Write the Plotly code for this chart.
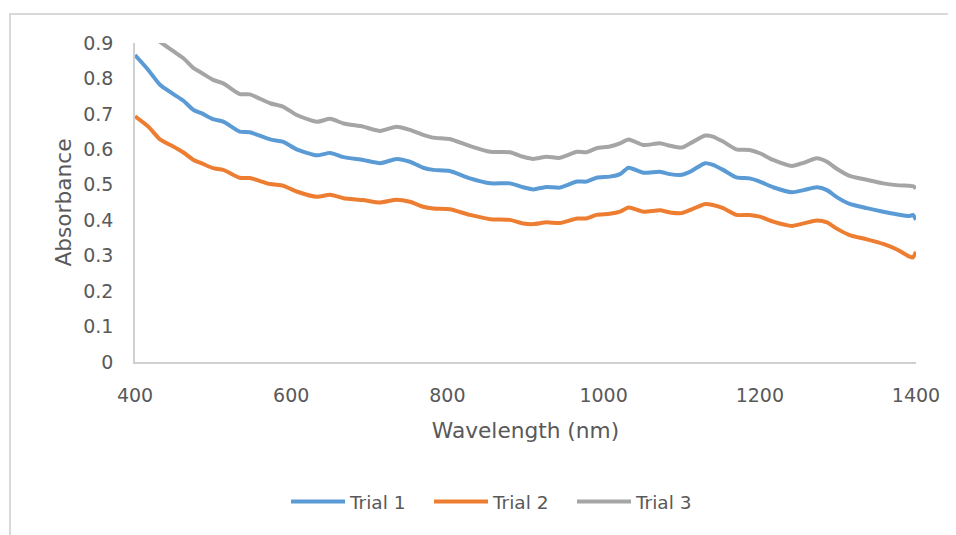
import plotly.graph_objects as go

wavelength = [400, 417, 432, 449, 462, 475, 485, 500, 513, 534, 547, 573, 590, 607, 633, 650, 667, 692, 714, 735,
              752, 769, 782, 803, 829, 855, 880, 897, 910, 927, 944, 966, 978, 991, 1008, 1021, 1032, 1051, 1072,
              1085, 1100, 1111, 1130, 1140, 1153, 1170, 1187, 1200, 1217, 1241, 1256, 1273, 1286, 1298, 1315,
              1337, 1358, 1375, 1392, 1396, 1400]

trial1 = [0.866, 0.824, 0.782, 0.756, 0.737, 0.711, 0.702, 0.685, 0.678, 0.650, 0.648, 0.628, 0.621, 0.600, 0.583,
          0.590, 0.578, 0.570, 0.561, 0.573, 0.565, 0.548, 0.542, 0.539, 0.518, 0.504, 0.504, 0.493, 0.487, 0.494,
          0.492, 0.509, 0.509, 0.520, 0.523, 0.530, 0.548, 0.534, 0.537, 0.530, 0.528, 0.537, 0.561, 0.556, 0.542,
          0.521, 0.518, 0.509, 0.493, 0.479, 0.485, 0.493, 0.485, 0.466, 0.446, 0.434, 0.424, 0.417, 0.412, 0.415,
          0.401]

trial2 = [0.693, 0.664, 0.628, 0.608, 0.591, 0.570, 0.561, 0.547, 0.542, 0.520, 0.519, 0.502, 0.497, 0.481, 0.466,
          0.472, 0.462, 0.457, 0.450, 0.458, 0.452, 0.438, 0.433, 0.431, 0.415, 0.403, 0.401, 0.391, 0.389, 0.394,
          0.392, 0.405, 0.405, 0.415, 0.418, 0.424, 0.436, 0.424, 0.428, 0.422, 0.420, 0.429, 0.446, 0.443, 0.434,
          0.415, 0.415, 0.410, 0.396, 0.384, 0.391, 0.399, 0.394, 0.377, 0.358, 0.346, 0.333, 0.318, 0.297, 0.295,
          0.311]

trial3 = [0.955, 0.925, 0.903, 0.877, 0.857, 0.829, 0.816, 0.796, 0.786, 0.756, 0.755, 0.730, 0.720, 0.697, 0.678,
          0.686, 0.673, 0.664, 0.652, 0.664, 0.655, 0.641, 0.633, 0.629, 0.609, 0.593, 0.592, 0.579, 0.573, 0.579,
          0.576, 0.593, 0.592, 0.603, 0.608, 0.617, 0.628, 0.612, 0.617, 0.610, 0.605, 0.617, 0.639, 0.636, 0.622,
          0.600, 0.598, 0.589, 0.570, 0.553, 0.562, 0.575, 0.565, 0.546, 0.525, 0.514, 0.504, 0.499, 0.497, 0.496,
          0.490]

series = [("Trial 1", trial1, "#5B9BD5"), ("Trial 2", trial2, "#ED7D31"), ("Trial 3", trial3, "#A5A5A5")]

FONT = "'DejaVu Sans', sans-serif"
TXT = "#595959"

# page offset (body margin 8px) taken into account in the margins
L, R, T, B = 127, 48, 35, 181
PW = 956 - L - R
PH = 535 - T - B

fig = go.Figure()
for name, vals, color in series:
    fig.add_trace(go.Scatter(x=wavelength, y=vals, name=name, mode="lines",
                             line=dict(color=color, width=4, shape="spline", smoothing=0.6)))

fig.update_layout(
    width=956, height=535,
    margin=dict(l=L, r=R, t=T, b=B),
    paper_bgcolor="white", plot_bgcolor="white",
    font=dict(family=FONT, color=TXT, size=19),
    showlegend=True,
    legend=dict(orientation="h", x=0.468, xanchor="center", y=-0.439, yanchor="middle",
                font=dict(size=18.5, color=TXT), itemwidth=54, entrywidth=74, tracegroupgap=0),
    xaxis=dict(range=[400, 1400], dtick=200, tick0=400, showgrid=False, zeroline=False,
               showline=True, linecolor="#d0d0d0", linewidth=1.5, ticks="",
               ticklabelstandoff=15, tickfont=dict(size=19, color=TXT),
               title=dict(text="Wavelength (nm)", font=dict(size=21.7, color=TXT), standoff=18)),
    yaxis=dict(range=[0, 0.9], dtick=0.1, tick0=0, showgrid=False, zeroline=False,
               showline=True, linecolor="#d0d0d0", linewidth=1.5, ticks="",
               ticklabelstandoff=16, tickfont=dict(size=19, color=TXT),
               title=dict(text="Absorbance", font=dict(size=21.7, color=TXT), standoff=6)),
    shapes=[dict(type="rect", xref="paper", yref="paper",
                 x0=(2 - L) / PW, x1=1.2, y0=-0.8, y1=(PH - 6 + T) / PH,
                 line=dict(color="#d9d9d9", width=2), fillcolor="rgba(0,0,0,0)", layer="below")],
)

fig.write_html("out.html")
